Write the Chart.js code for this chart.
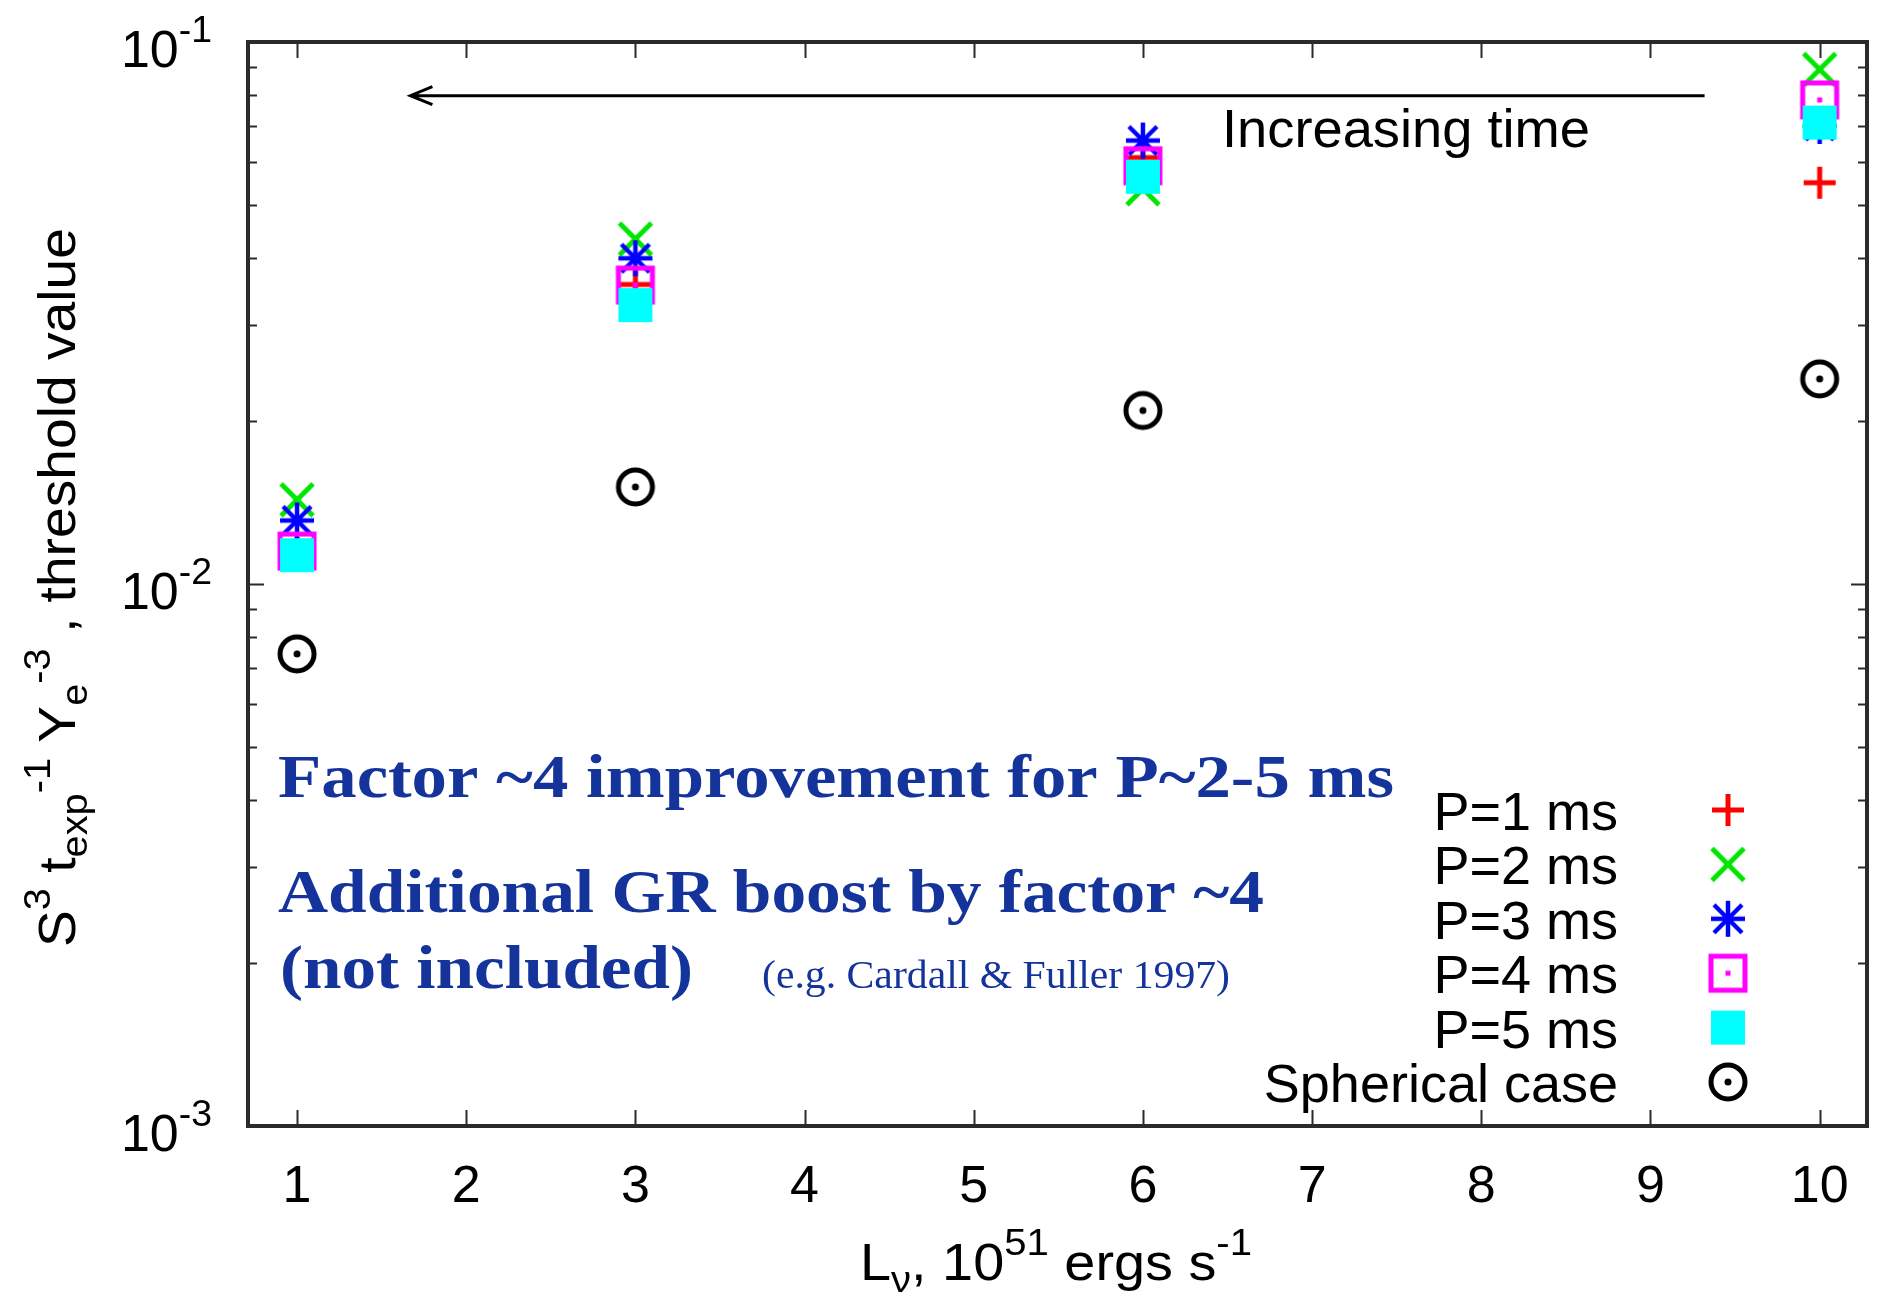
<!DOCTYPE html>
<html>
<head>
<meta charset="utf-8">
<script src="https://cdn.jsdelivr.net/npm/chart.js@4.4.0/dist/chart.umd.min.js"></script>
<style>
html, body { margin: 0; padding: 0; background: #fff; }
</style>
</head>
<body>
<canvas id="myChart" width="1879" height="1300"></canvas>
<script>
// luminosity (10^51 erg/s) and threshold values
const luminosity = [1, 3, 6, 10];
const seriesNames = ['P=1 ms', 'P=2 ms', 'P=3 ms', 'P=4 ms', 'P=5 ms', 'Spherical case'];
const p1ms = [0.0114, 0.0357, 0.0612, 0.0550];
const p2ms = [0.0143, 0.0433, 0.0536, 0.0890];
const p3ms = [0.0131, 0.0399, 0.0658, 0.0700];
const p4ms = [0.0115, 0.0356, 0.0591, 0.0782];
const p5ms = [0.0113, 0.0327, 0.0564, 0.0710];
const spherical = [0.00743, 0.0151, 0.0209, 0.0239];
const xTicks = [1, 2, 3, 4, 5, 6, 7, 8, 9, 10];
const yDecades = [0.001, 0.01, 0.1];
const yDecadeLabels = ['-3', '-2', '-1'];

const seriesValues = [p1ms, p2ms, p3ms, p4ms, p5ms, spherical];
const seriesColors = ['#ff0000', '#00e600', '#0000ff', '#ff00ff', '#00ffff', '#000000'];
const markerKinds = ['plus', 'cross', 'star', 'squareDot', 'square', 'circleDot'];

const SANS = '"Liberation Sans", Arial, sans-serif';
const SERIF = '"Liberation Serif", "Times New Roman", serif';
const BLUE = '#14339b';

function makeMarker(kind, color) {
  const c = document.createElement('canvas');
  c.width = 48; c.height = 48;
  const g = c.getContext('2d');
  g.translate(24, 24);
  g.strokeStyle = color; g.fillStyle = color;
  g.lineWidth = 5; g.lineCap = 'butt';
  const line = (x1, y1, x2, y2) => { g.beginPath(); g.moveTo(x1, y1); g.lineTo(x2, y2); g.stroke(); };
  if (kind === 'plus') {
    line(-16, 0, 16, 0); line(0, -16, 0, 16);
  } else if (kind === 'cross') {
    line(-16, -16, 16, 16); line(-16, 16, 16, -16);
  } else if (kind === 'star') {
    g.lineWidth = 4.5;
    line(-17, 0, 17, 0); line(0, -18, 0, 18);
    line(-14, -14, 14, 14); line(-14, 14, 14, -14);
  } else if (kind === 'squareDot') {
    g.strokeRect(-17, -17, 34, 34);
    g.fillRect(-2.5, -2.5, 5, 5);
  } else if (kind === 'square') {
    g.fillRect(-17, -17, 34, 34);
  } else if (kind === 'circleDot') {
    g.beginPath(); g.arc(0, 0, 17, 0, Math.PI * 2); g.stroke();
    g.beginPath(); g.arc(0, 0, 3.5, 0, Math.PI * 2); g.fill();
  }
  return c;
}

const markers = markerKinds.map((k, i) => makeMarker(k, seriesColors[i]));

// draw a list of text runs (normal / sup / sub), optionally squeezed to a width
function runsWidth(ctx, runs, size, family, weight) {
  let w = 0;
  for (const r of runs) {
    const s = r.k === 'n' ? size : size * 0.72;
    ctx.font = (weight || '') + ' ' + s + 'px ' + family;
    w += ctx.measureText(r.t).width;
  }
  return w;
}
function drawRuns(ctx, runs, x, y, size, family, opts) {
  opts = opts || {};
  const w = runsWidth(ctx, runs, size, family, opts.weight);
  const sx = opts.width ? opts.width / w : 1;
  ctx.save();
  ctx.translate(x, y);
  ctx.scale(sx, 1);
  ctx.textAlign = 'left';
  ctx.textBaseline = 'alphabetic';
  let cx = opts.align === 'right' ? -w : opts.align === 'center' ? -w / 2 : 0;
  for (const r of runs) {
    const s = r.k === 'n' ? size : size * 0.72;
    const dy = r.k === 'sup' ? -size * 0.48 : r.k === 'sub' ? size * 0.24 : 0;
    ctx.font = (opts.weight || '') + ' ' + s + 'px ' + family;
    ctx.fillText(r.t, cx, dy);
    cx += ctx.measureText(r.t).width;
  }
  ctx.restore();
}
const N = t => ({ t: t, k: 'n' });
const SUP = t => ({ t: t, k: 'sup' });
const SUB = t => ({ t: t, k: 'sub' });

const decorations = {
  id: 'decorations',
  beforeDatasetsDraw(chart) {
    const ctx = chart.ctx;
    const a = chart.chartArea;
    const xs = chart.scales.x, ys = chart.scales.y;
    ctx.save();
    ctx.strokeStyle = '#2a2a2a';
    ctx.lineWidth = 2;
    ctx.beginPath();
    // x ticks, bottom and top, pointing inward
    for (const t of xTicks) {
      const px = Math.round(xs.getPixelForValue(t)) + 0.5;
      ctx.moveTo(px, a.bottom); ctx.lineTo(px, a.bottom - 16);
      ctx.moveTo(px, a.top); ctx.lineTo(px, a.top + 16);
    }
    // y ticks: decades long, 2..9 short, both sides
    for (let d = 0; d < yDecades.length; d++) {
      for (let m = 1; m <= 9; m++) {
        const v = yDecades[d] * m;
        if (v > 0.1 + 1e-12) break;
        const py = Math.round(ys.getPixelForValue(v)) + 0.5;
        const len = m === 1 ? 16 : 9;
        ctx.moveTo(a.left, py); ctx.lineTo(a.left + len, py);
        ctx.moveTo(a.right, py); ctx.lineTo(a.right - len, py);
      }
    }
    ctx.stroke();
    ctx.lineWidth = 4;
    ctx.strokeRect(a.left, a.top, a.right - a.left, a.bottom - a.top);

    // "increasing time" arrow, placed in data coordinates
    const ax1 = xs.getPixelForValue(9.32), ax2 = xs.getPixelForValue(1.67);
    const ay = ys.getPixelForValue(0.0796);
    ctx.strokeStyle = '#000';
    ctx.lineWidth = 3;
    ctx.beginPath();
    ctx.moveTo(ax1, ay); ctx.lineTo(ax2, ay);
    ctx.moveTo(ax2 + 22, ay - 9); ctx.lineTo(ax2, ay); ctx.lineTo(ax2 + 22, ay + 9);
    ctx.stroke();
    ctx.restore();
  },
  afterDraw(chart) {
    const ctx = chart.ctx;
    const a = chart.chartArea;
    const xs = chart.scales.x, ys = chart.scales.y;
    ctx.save();
    ctx.fillStyle = '#000';

    // x tick labels
    ctx.font = '52px ' + SANS;
    ctx.textAlign = 'center';
    ctx.textBaseline = 'alphabetic';
    for (const t of xTicks) {
      ctx.fillText(String(t), xs.getPixelForValue(t), a.bottom + 76);
    }
    // y tick labels 10^n
    yDecades.forEach((v, i) => {
      const py = ys.getPixelForValue(v);
      drawRuns(ctx, [N('10'), SUP(yDecadeLabels[i])], a.left - 36, py + 25, 52, SANS, { align: 'right' });
    });

    // axis titles
    drawRuns(ctx, [N('L'), SUB('\u03bd'), N(', 10'), SUP('51'), N(' ergs s'), SUP('-1')],
      860, 1280, 52, SANS, { width: 392 });
    ctx.save();
    ctx.translate(75, 947);
    ctx.rotate(-Math.PI / 2);
    drawRuns(ctx, [N('S'), SUP('3'), N(' t'), SUB('exp'), SUP('-1'), N(' Y'), SUB('e'), SUP('-3'), N(' , threshold value')],
      0, 0, 52, SANS, { width: 719 });
    ctx.restore();

    // arrow label
    drawRuns(ctx, [N('Increasing time')], 1222, 147, 53, SANS, { width: 368 });

    // key, lower right inside the frame
    seriesNames.forEach((name, i) => {
      const cy = 810 + i * 54.4;
      drawRuns(ctx, [N(name)], 1618, cy + 20, 54, SANS, { align: 'right' });
      ctx.drawImage(markers[i], 1728 - 24, cy - 24);
    });

    // blue notes
    ctx.fillStyle = BLUE;
    drawRuns(ctx, [N('Factor ~4 improvement for P~2-5 ms')], 278, 797, 62, SERIF, { weight: 'bold', width: 1116 });
    drawRuns(ctx, [N('Additional GR boost by factor ~4')], 278, 912, 62, SERIF, { weight: 'bold', width: 986 });
    drawRuns(ctx, [N('(not included)')], 280, 988, 62, SERIF, { weight: 'bold', width: 413 });
    drawRuns(ctx, [N('(e.g. Cardall & Fuller 1997)')], 762, 988, 41, SERIF, { width: 468 });
    ctx.restore();
  }
};

const data = {
  datasets: seriesNames.map((name, i) => ({
    label: name,
    data: luminosity.map((x, j) => ({ x: x, y: seriesValues[i][j] })),
    pointStyle: markers[i],
    pointRadius: 20,
    pointHoverRadius: 20,
    showLine: false,
    order: seriesNames.length - i
  }))
};

const config = {
  type: 'scatter',
  data: data,
  options: {
    responsive: false,
    animation: false,
    layout: { autoPadding: false, padding: { left: 248, right: 12, top: 42, bottom: 174 } },
    plugins: {
      legend: { display: false },
      tooltip: { enabled: false }
    },
    scales: {
      x: { type: 'linear', min: 0.71, max: 10.28, display: false },
      y: { type: 'logarithmic', min: 0.001, max: 0.1, display: false }
    }
  },
  plugins: [decorations]
};

var myChart = new Chart(
    document.getElementById('myChart'),
    config
);
</script>
</body>
</html>
